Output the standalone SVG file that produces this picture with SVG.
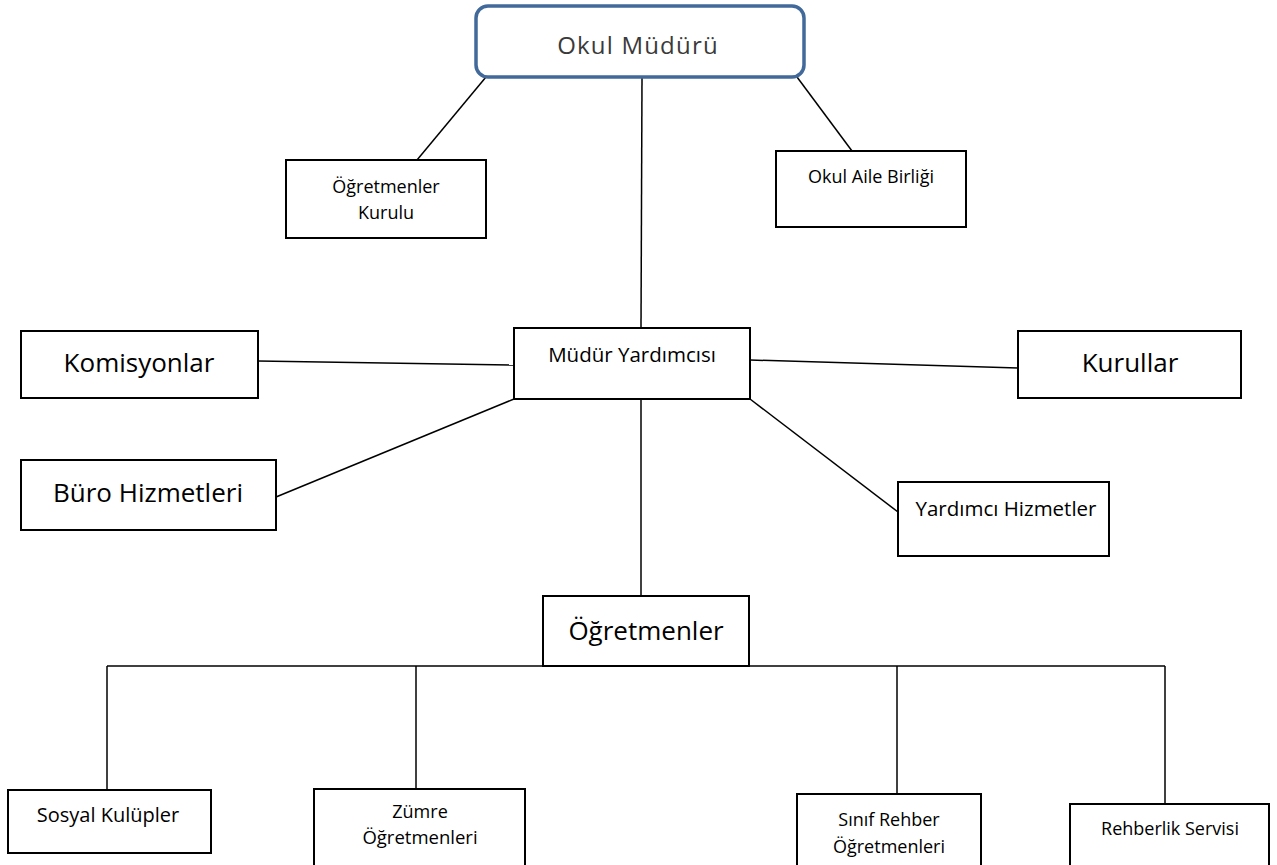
<svg xmlns="http://www.w3.org/2000/svg" width="1277" height="865" viewBox="0 0 1277 865">
<style>
.box{fill:#fff;stroke:#000;stroke-width:2}
.ln{stroke:#000;stroke-width:1.5;fill:none}
.t{font-family:"Open Sans","Liberation Sans",sans-serif;font-size:18px;fill:#000;text-anchor:middle}
.mid{font-size:20.5px}
.big{font-size:26px}
</style>
<rect width="1277" height="865" fill="#fff"/>
<g id="connectors">
<line class="ln" x1="486" y1="77" x2="417" y2="160"/>
<line class="ln" x1="642" y1="78" x2="641" y2="327"/>
<line class="ln" x1="797" y1="77" x2="852" y2="151"/>
<line class="ln" x1="258" y1="361" x2="514" y2="365"/>
<line class="ln" x1="750" y1="360" x2="1018" y2="368"/>
<line class="ln" x1="514" y1="399" x2="276" y2="497"/>
<line class="ln" x1="750" y1="399" x2="898" y2="512"/>
<line class="ln" x1="641" y1="399" x2="641" y2="596"/>
<line class="ln" x1="107" y1="666" x2="1165" y2="666"/>
<line class="ln" x1="107" y1="666" x2="107" y2="790"/>
<line class="ln" x1="416" y1="666" x2="416" y2="789"/>
<line class="ln" x1="897" y1="666" x2="897" y2="794"/>
<line class="ln" x1="1165" y1="666" x2="1165" y2="804"/>
</g>
<g id="okul-muduru">
<rect x="476" y="6" width="328" height="71" rx="12" fill="#fff" stroke="#41699a" stroke-width="3.5"/>
<text x="638" y="54" class="t" style="font-size:24px;fill:#3a3a3a;letter-spacing:1.2px">Okul Müdürü</text>
</g>
<g id="ogretmenler-kurulu">
<rect class="box" x="286" y="160" width="200" height="78"/>
<text x="386" y="193" class="t">Öğretmenler</text>
<text x="386" y="219" class="t">Kurulu</text>
</g>
<g id="okul-aile-birligi">
<rect class="box" x="776" y="151" width="190" height="76"/>
<text x="871" y="183" class="t">Okul Aile Birliği</text>
</g>
<g id="komisyonlar">
<rect class="box" x="21" y="331" width="237" height="67"/>
<text x="139" y="372" class="t big">Komisyonlar</text>
</g>
<g id="mudur-yardimcisi">
<rect class="box" x="514" y="328" width="236" height="71"/>
<text x="632" y="362" class="t mid">Müdür Yardımcısı</text>
</g>
<g id="kurullar">
<rect class="box" x="1018" y="331" width="223" height="67"/>
<text x="1130" y="372" class="t big">Kurullar</text>
</g>
<g id="buro-hizmetleri">
<rect class="box" x="21" y="460" width="255" height="70"/>
<text x="148" y="502" class="t big">Büro Hizmetleri</text>
</g>
<g id="yardimci-hizmetler">
<rect class="box" x="898" y="482" width="211" height="74"/>
<text x="1006" y="516" class="t mid">Yardımcı Hizmetler</text>
</g>
<g id="ogretmenler">
<rect class="box" x="543" y="596" width="206" height="70"/>
<text x="646" y="640" class="t big">Öğretmenler</text>
</g>
<g id="sosyal-kulupler">
<rect class="box" x="8" y="790" width="203" height="63"/>
<text x="108" y="822" class="t" style="font-size:20px">Sosyal Kulüpler</text>
</g>
<g id="zumre-ogretmenleri">
<rect class="box" x="314" y="789" width="211" height="80"/>
<text x="420" y="818" class="t">Zümre</text>
<text x="420" y="844" class="t" style="font-size:18.5px">Öğretmenleri</text>
</g>
<g id="sinif-rehber-ogretmenleri">
<rect class="box" x="797" y="794" width="184" height="75"/>
<text x="889" y="826" class="t">Sınıf Rehber</text>
<text x="889" y="853" class="t">Öğretmenleri</text>
</g>
<g id="rehberlik-servisi">
<rect class="box" x="1070" y="804" width="199" height="65"/>
<text x="1170" y="835" class="t">Rehberlik Servisi</text>
</g>
</svg>
